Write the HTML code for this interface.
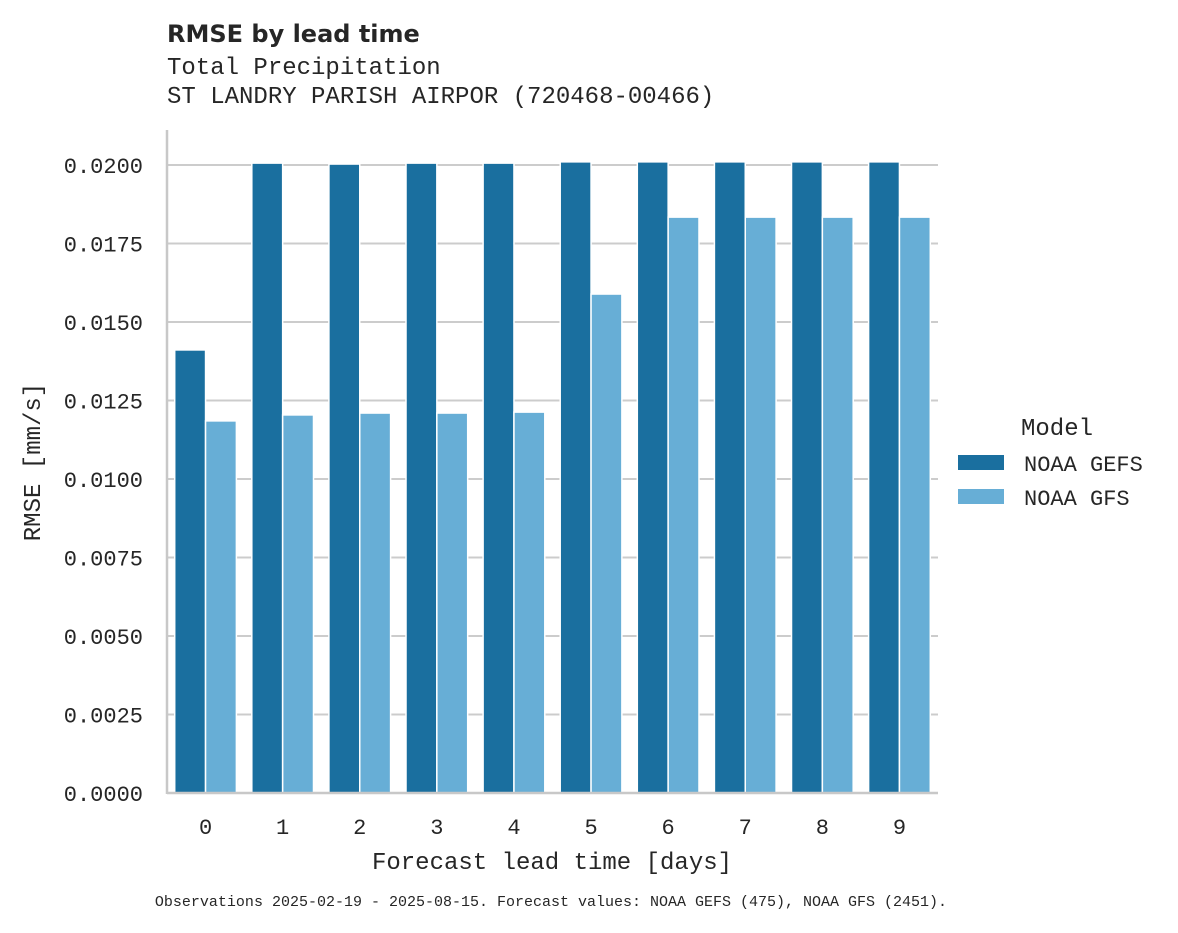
<!DOCTYPE html>
<html><head><meta charset="utf-8"><style>
body{margin:0;background:#fff}
text{font-family:"Liberation Mono","DejaVu Sans Mono",monospace;fill:#262626}
</style></head><body>
<svg id="chart" width="1178" height="928" xmlns="http://www.w3.org/2000/svg">
<text x="167" y="42" style="font-family:'DejaVu Sans',sans-serif;font-weight:bold;font-size:24px">RMSE by lead time</text>
<text x="167" y="74" font-size="24">Total Precipitation</text>
<text x="167" y="103" font-size="24">ST LANDRY PARISH AIRPOR (720468-00466)</text>
<g id="grid"></g><g id="bars"></g><g id="axes"></g>
<text x="552" y="869" font-size="24" text-anchor="middle">Forecast lead time [days]</text>
<text transform="translate(40,462) rotate(-90)" font-size="24" text-anchor="middle">RMSE [mm/s]</text>
<g>
<text x="1057" y="435" font-size="24" text-anchor="middle">Model</text>
<rect x="958" y="455" width="46" height="15" fill="#1a6f9f"/>
<text x="1024" y="471" font-size="22">NOAA GEFS</text>
<rect x="958" y="489" width="46" height="15" fill="#67aed6"/>
<text x="1024" y="505" font-size="22">NOAA GFS</text>
</g>
<text x="551" y="906" font-size="15" text-anchor="middle">Observations 2025-02-19 - 2025-08-15. Forecast values: NOAA GEFS (475), NOAA GFS (2451).</text>
</svg>
<script>
const categories=["0","1","2","3","4","5","6","7","8","9"];
const gefs=[0.01411,0.02006,0.02003,0.02006,0.02006,0.0201,0.0201,0.0201,0.0201,0.0201];
const gfs=[0.01185,0.01204,0.0121,0.0121,0.01213,0.01589,0.01834,0.01834,0.01834,0.01834];
const yTicks=[0,0.0025,0.005,0.0075,0.01,0.0125,0.015,0.0175,0.02];
const NS="http://www.w3.org/2000/svg";
const L=167,R=938,T=130,B=793;
const y=v=>B-v/0.02*628;
const bw=(R-L)/categories.length;
const x=i=>L+bw*i;
function mk(tag,at,parent,txt){const e=document.createElementNS(NS,tag);for(const k in at)e.setAttribute(k,at[k]);if(txt!==undefined)e.textContent=txt;document.getElementById(parent).appendChild(e);return e;}
yTicks.forEach((t,i)=>{
 const g=mk('line',{x1:L,x2:R,y1:y(t),y2:y(t),stroke:'#cccccc','stroke-width':2},'grid');
 
 
 const tx=mk('text',{x:143,y:y(t)+8,'font-size':22,'text-anchor':'end'},'axes',t.toFixed(4));
 
 
});
categories.forEach((c,i)=>{
 const cx=x(i)+bw/2, w=bw*0.4;
 const a=mk('rect',{x:cx-w,y:y(gefs[i]),width:w,height:B-y(gefs[i]),fill:'#1a6f9f',stroke:'#fff','stroke-width':1.5},'bars');
 
 
 const b=mk('rect',{x:cx,y:y(gfs[i]),width:w,height:B-y(gfs[i]),fill:'#67aed6',stroke:'#fff','stroke-width':1.5},'bars');
 
 
 const tx=mk('text',{x:cx,y:834,'font-size':22,'text-anchor':'middle'},'axes',c);
 
 
});
const ls=mk('line',{x1:L,x2:L,y1:T,y2:B+1,stroke:'#c8c8c8','stroke-width':2.5},'axes');


const bs=mk('line',{x1:L,x2:R,y1:B,y2:B,stroke:'#c8c8c8','stroke-width':2.5},'axes');


</script>
</body></html>
